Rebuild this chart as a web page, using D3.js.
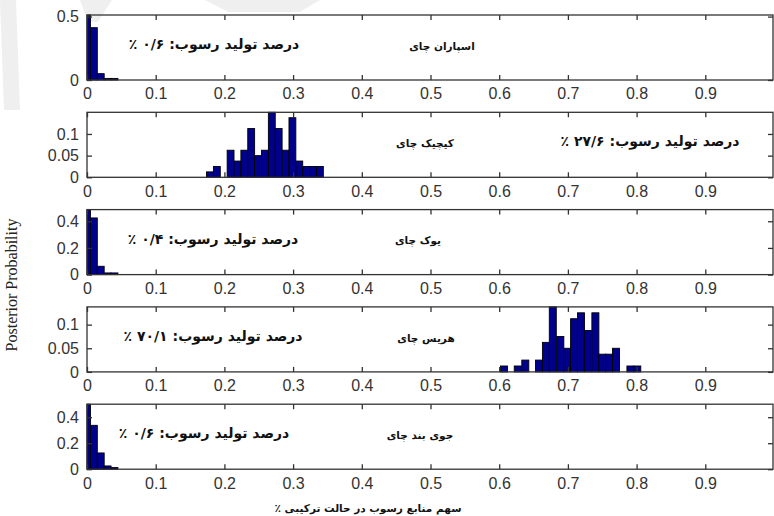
<!DOCTYPE html>
<html>
<head>
<meta charset="utf-8">
<script src="https://cdn.jsdelivr.net/npm/d3@7"></script>
<style>
  html, body { margin: 0; padding: 0; background: #fff; }
  svg { display: block; }
  .tick text { font-family: "Liberation Sans", Arial, sans-serif; font-size: 16px; fill: #333; }
  .fa { font-family: "DejaVu Sans", sans-serif; fill: #111; direction: rtl; }
</style>
</head>
<body>
<div id="chart"></div>
<script>
// source names (one per panel, top to bottom)
const sources = ["اسپاران چای", "کیچیک چای", "یوک چای", "هریس چای", "جوی بند چای"];
const shareLabels = [
  "درصد تولید رسوب: ۰/۶ ٪",
  "درصد تولید رسوب: ۲۷/۶ ٪",
  "درصد تولید رسوب: ۰/۴ ٪",
  "درصد تولید رسوب: ۷۰/۱ ٪",
  "درصد تولید رسوب: ۰/۶ ٪"
];

// histogram bin centres and posterior probabilities
const binsA = [0, 0.01, 0.02, 0.03, 0.04];
const probA = [0.5125, 0.4125, 0.05, 0.0125, 0.0125];

const binsB = [0.179, 0.189, 0.209, 0.219, 0.229, 0.239, 0.249, 0.259, 0.269, 0.279, 0.289, 0.299, 0.309, 0.319, 0.329, 0.339];
const probB = [0.0125, 0.025, 0.0625, 0.0375, 0.0625, 0.1125, 0.05, 0.0625, 0.15, 0.1125, 0.0625, 0.1375, 0.0375, 0.025, 0.025, 0.025];

const binsC = [0, 0.01, 0.02, 0.03, 0.04];
const probC = [0.4875, 0.425, 0.0625, 0.0125, 0.0125];

const binsD = [0.607, 0.627, 0.638, 0.658, 0.668, 0.678, 0.689, 0.699, 0.709, 0.719, 0.729, 0.740, 0.750, 0.760, 0.770, 0.791, 0.801];
const probD = [0.0125, 0.0125, 0.025, 0.025, 0.0625, 0.1375, 0.075, 0.05, 0.1125, 0.125, 0.0875, 0.125, 0.0375, 0.0375, 0.05, 0.0125, 0.0125];

const binsE = [0, 0.01, 0.02, 0.03, 0.04];
const probE = [0.5, 0.3375, 0.125, 0.025, 0.0125];

const binWidths = [0.01, 0.01, 0.01, 0.0102, 0.01];

// tick labels
const xTicks = [0, 0.1, 0.2, 0.3, 0.4, 0.5, 0.6, 0.7, 0.8, 0.9];
const yTicksA = [0, 0.5];
const yTicksB = [0, 0.05, 0.1];
const yTicksC = [0, 0.2, 0.4];

const panels = [
  { bins: binsA, prob: probA, yTicks: yTicksA },
  { bins: binsB, prob: probB, yTicks: yTicksB },
  { bins: binsC, prob: probC, yTicks: yTicksC },
  { bins: binsD, prob: probD, yTicks: yTicksB },
  { bins: binsE, prob: probE, yTicks: yTicksC }
];

const width = 774, height = 516;
const left = 87, right = 774;
const firstTop = 15, step = 97.3, panelH = 65;

// where the panel texts sit
const shareX = [214, 650, 213, 213, 204];
const nameX = [442, 425, 418, 426, 420];

const svg = d3.select("#chart").append("svg")
  .attr("width", width)
  .attr("height", height)
  .attr("viewBox", [0, 0, width, height]);

// faint watermark streaks of the scanned page
svg.append("g").attr("fill", "#efefef")
  .selectAll("path")
  .data([
    "M0,0 L16,0 L20,110 L4,110 Z",
    "M80,0 L112,0 L98,22 L88,22 Z",
    "M205,0 L320,0 L300,12 L228,12 Z"
  ])
  .join("path")
  .attr("d", d => d);

const x = d3.scaleLinear().domain([0, 1]).range([left, right]);

panels.forEach((p, i) => {
  const top = firstTop + i * step;
  const bottom = top + panelH;
  const y = d3.scaleLinear().domain([0, d3.max(p.prob)]).range([bottom, top]);
  const w = binWidths[i];
  const g = svg.append("g");

  g.append("g")
    .selectAll("rect")
    .data(p.bins.map((b, k) => ({ b, v: p.prob[k] })))
    .join("rect")
      .attr("x", d => x(Math.max(0, d.b - w / 2)))
      .attr("y", d => y(d.v))
      .attr("width", d => x(d.b + w / 2) - x(Math.max(0, d.b - w / 2)))
      .attr("height", d => y(0) - y(d.v))
      .attr("fill", "#00008c")
      .attr("stroke", "#000")
      .attr("stroke-width", 0.9);

  // frame
  g.append("rect")
    .attr("x", x(0))
    .attr("y", top)
    .attr("width", right - 1 - x(0))
    .attr("height", panelH)
    .attr("fill", "none")
    .attr("stroke", "#333")
    .attr("stroke-width", 1.3);

  g.append("g")
    .attr("transform", `translate(0,${bottom})`)
    .call(d3.axisBottom(x).tickValues(xTicks).tickFormat(d => String(d)).tickSizeInner(-5).tickSizeOuter(0).tickPadding(8))
    .call(a => a.select(".domain").remove())
    .call(a => a.selectAll("line").attr("stroke", "#333").attr("stroke-width", 1.3));

  g.append("g")
    .attr("transform", `translate(0,${top})`)
    .call(d3.axisTop(x).tickValues(xTicks).tickFormat("").tickSizeInner(-5).tickSizeOuter(0))
    .call(a => a.select(".domain").remove())
    .call(a => a.selectAll("line").attr("stroke", "#333").attr("stroke-width", 1.3));

  g.append("g")
    .attr("transform", `translate(${x(0)},0)`)
    .call(d3.axisLeft(y).tickValues(p.yTicks).tickFormat(d => String(d)).tickSizeInner(-5).tickSizeOuter(0).tickPadding(8))
    .call(a => a.select(".domain").remove())
    .call(a => a.selectAll("line").attr("stroke", "#333").attr("stroke-width", 1.3));

  g.append("g")
    .attr("transform", `translate(${right - 1},0)`)
    .call(d3.axisRight(y).tickValues(p.yTicks).tickFormat("").tickSizeInner(-5).tickSizeOuter(0))
    .call(a => a.select(".domain").remove())
    .call(a => a.selectAll("line").attr("stroke", "#333").attr("stroke-width", 1.3));

  g.append("text")
    .attr("class", "fa")
    .attr("x", shareX[i])
    .attr("y", top + 29)
    .attr("dy", "0.35em")
    .attr("text-anchor", "middle")
    .attr("font-size", 14)
    .attr("font-weight", "bold")
    .text(shareLabels[i]);

  g.append("text")
    .attr("class", "fa")
    .attr("x", nameX[i])
    .attr("y", top + 31)
    .attr("dy", "0.35em")
    .attr("text-anchor", "middle")
    .attr("font-size", 10.5)
    .attr("font-weight", "bold")
    .text(sources[i]);
});

svg.append("text")
  .attr("transform", "translate(17,285) rotate(-90)")
  .attr("text-anchor", "middle")
  .attr("font-family", "Liberation Serif, Times New Roman, serif")
  .attr("font-size", 16)
  .attr("fill", "#222")
  .text("Posterior Probability");

svg.append("text")
  .attr("class", "fa")
  .attr("x", 368)
  .attr("y", 508)
  .attr("dy", "0.35em")
  .attr("text-anchor", "middle")
  .attr("font-size", 10.5)
  .attr("font-weight", "bold")
  .text("سهم منابع رسوب در حالت ترکیبی ٪");
</script>
</body>
</html>
